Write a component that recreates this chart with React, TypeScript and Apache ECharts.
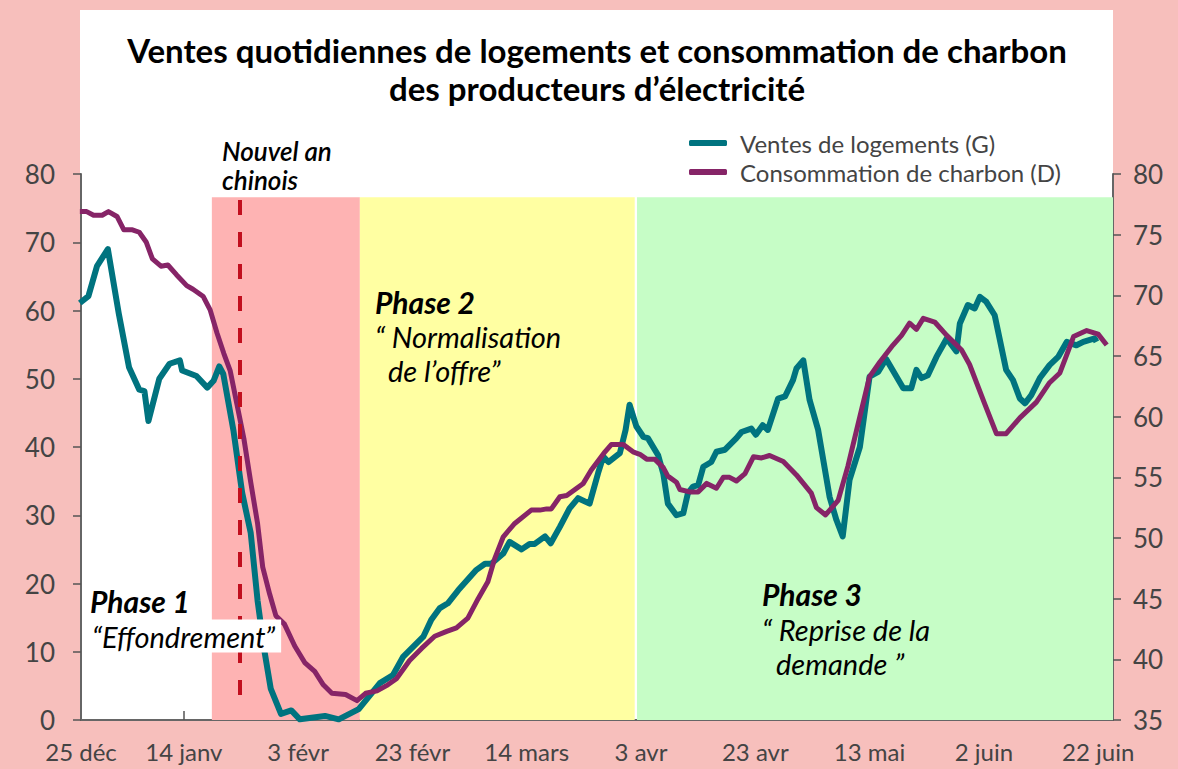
import React, { useEffect, useRef } from "react";
import * as echarts from "echarts";

// Day index counted from 25 Dec 2019 (day 0)
const tickDays = [0, 20, 40, 60, 80, 100, 120, 140, 160, 180];
const tickLabels = ["25 déc", "14 janv", "3 févr", "23 févr", "14 mars", "3 avr", "23 avr", "13 mai", "2 juin", "22 juin"];

const housingDays = [1.8, 3.3, 4.8, 6.7, 8.6, 10.4, 12.2, 13.1, 13.8, 15.7, 17.5, 19.3, 19.7, 22.2, 24.1, 25.2, 26.2, 26.9, 28.7, 30.2, 31.7, 32.9, 34.1, 35.2, 37.0, 38.8, 40.3, 44.7, 47.1, 50.6, 54.3, 56.6, 58.4, 61.9, 63.3, 64.8, 66.2, 68.0, 71.2, 72.7, 73.8, 75.9, 77.0, 79.1, 80.5, 81.4, 83.2, 84.2, 85.8, 87.5, 89.0, 91.0, 92.5, 93.4, 94.3, 96.3, 97.3, 98.0, 99.2, 100.4, 101.2, 103.0, 103.9, 104.7, 106.2, 107.4, 108.2, 109.1, 110.0, 110.9, 112.3, 113.2, 114.7, 116.7, 117.6, 119.3, 120.1, 121.3, 122.2, 124.0, 125.2, 126.6, 127.2, 128.4, 129.5, 131.0, 133.0, 134.2, 135.3, 136.5, 138.3, 140.0, 141.5, 142.9, 145.9, 147.3, 148.2, 149.1, 150.2, 151.7, 153.5, 155.2, 155.8, 157.2, 158.4, 159.3, 160.4, 161.9, 162.8, 163.9, 165.1, 166.3, 167.2, 168.3, 169.8, 171.5, 173.0, 174.5, 176.2, 177.4, 179.4, 179.7];
const housingValues = [61.1, 62.1, 66.5, 69.0, 59.6, 51.7, 48.4, 48.2, 43.8, 50.0, 52.2, 52.7, 51.2, 50.4, 48.7, 49.7, 51.8, 50.7, 42.3, 33.3, 27.4, 17.5, 10.1, 4.6, 0.9, 1.4, 0.1, 0.6, 0.1, 1.6, 5.4, 6.6, 9.3, 12.2, 14.7, 16.4, 17.1, 19.0, 22.0, 22.9, 22.9, 24.4, 26.1, 25.0, 25.8, 25.8, 26.9, 25.9, 28.3, 31.0, 32.5, 31.7, 36.2, 38.6, 37.8, 39.1, 42.5, 46.2, 43.0, 41.5, 41.3, 38.8, 36.1, 31.7, 30.0, 30.3, 33.2, 34.2, 34.4, 37.1, 37.8, 39.3, 39.6, 41.3, 42.2, 42.7, 41.8, 43.2, 42.5, 47.1, 47.4, 49.8, 51.5, 52.7, 46.9, 42.5, 32.7, 29.3, 26.9, 35.2, 40.0, 50.3, 51.0, 52.9, 48.6, 48.6, 51.3, 50.1, 50.5, 53.2, 55.9, 54.0, 58.1, 60.8, 60.3, 62.0, 61.3, 59.3, 55.7, 51.3, 49.8, 47.1, 46.4, 47.6, 50.1, 52.0, 53.2, 55.4, 54.9, 55.4, 55.9, 55.4];

const coalDays = [1.8, 3.0, 4.2, 5.7, 6.8, 8.3, 9.5, 11.0, 12.2, 13.4, 14.5, 16.0, 17.2, 18.7, 20.5, 21.6, 23.4, 24.6, 25.8, 27.0, 28.1, 29.3, 30.5, 31.7, 32.9, 33.8, 35.0, 36.1, 37.6, 39.4, 41.2, 42.9, 44.4, 45.9, 48.3, 50.3, 51.8, 53.8, 55.7, 57.2, 59.5, 61.6, 63.9, 66.0, 67.7, 69.7, 71.5, 73.2, 74.4, 75.9, 77.9, 80.8, 82.3, 83.5, 84.3, 85.8, 87.0, 89.9, 91.3, 93.7, 94.8, 96.9, 98.6, 99.8, 101.0, 102.4, 103.9, 104.7, 106.2, 106.8, 108.5, 110.0, 111.5, 113.2, 114.4, 115.5, 116.7, 118.2, 119.7, 121.1, 122.5, 124.9, 127.2, 129.8, 130.7, 132.3, 134.5, 136.2, 138.3, 140.0, 141.8, 144.1, 145.6, 147.0, 148.2, 149.4, 151.4, 153.5, 156.1, 157.5, 160.2, 162.2, 163.9, 166.3, 169.2, 171.5, 173.3, 174.5, 175.7, 178.0, 180.0, 181.5];
const coalValues = [76.9, 76.9, 76.6, 76.6, 76.9, 76.5, 75.4, 75.4, 75.2, 74.4, 73.0, 72.4, 72.5, 71.7, 70.8, 70.5, 69.9, 68.8, 66.9, 65.2, 63.8, 61.0, 58.2, 54.6, 51.2, 47.6, 45.4, 43.6, 42.9, 41.1, 39.7, 39.0, 37.9, 37.2, 37.1, 36.6, 37.2, 37.4, 37.9, 38.4, 39.9, 40.9, 41.9, 42.3, 42.6, 43.4, 45.0, 46.4, 48.3, 50.1, 51.2, 52.3, 52.3, 52.4, 52.4, 53.4, 53.5, 54.5, 55.6, 57.1, 57.7, 57.7, 57.1, 56.9, 56.5, 56.5, 55.8, 55.1, 54.6, 54.0, 53.8, 53.8, 54.5, 54.1, 55.0, 55.0, 54.7, 55.3, 56.7, 56.6, 56.8, 56.3, 55.2, 53.7, 52.5, 51.9, 53.1, 55.9, 60.0, 63.3, 64.5, 65.9, 66.7, 67.7, 67.2, 68.1, 67.8, 66.7, 65.5, 64.3, 61.0, 58.6, 58.6, 59.9, 61.2, 62.8, 63.6, 65.1, 66.6, 67.1, 66.8, 65.9];

// Phase bands (day index) and Chinese New Year marker
const phaseStarts = [24.9, 50.8, 99.3];
const phaseEnds = [50.8, 98.9, 182.6];
const phaseColors = ["#feb3b3", "#ffffa2", "#c6fdc6"];
const newYearDay = 29.7;

const X_MIN = 2;
const X_MAX = 182.6;
const BAND_TOP = 76.6;

const FONT = "Lato, 'Noto Sans', sans-serif";

export default function App() {
  const ref = useRef<HTMLDivElement>(null);
  useEffect(() => {
    if (!ref.current) return;
    const chart = echarts.init(ref.current, null, { renderer: "svg" });
    const labelValues = tickDays.map((d) => Math.max(d, X_MIN));
    const bands = phaseStarts.map((s, i) => [
      { xAxis: s, yAxis: BAND_TOP, itemStyle: { color: phaseColors[i] } },
      { xAxis: phaseEnds[i], yAxis: 0 },
    ]);
    const txt = (text: string, x: number, y: number, font: string, extra: any = {}) => ({
      type: "text",
      x,
      y,
      z: 50,
      style: { text, font, fill: "#000", align: "left", verticalAlign: "middle", ...extra },
    });
    chart.setOption({
      animation: false,
      backgroundColor: "#f7bfbc",
      grid: { left: 81, right: 65, top: 174, bottom: 49, containLabel: false },
      xAxis: {
        type: "value",
        min: X_MIN,
        max: X_MAX,
        splitLine: { show: false },
        axisLine: { lineStyle: { color: "#666", width: 2 } },
        axisTick: { inside: true, length: 9, customValues: tickDays.slice(1), lineStyle: { color: "#555", width: 1.5 } },
        axisLabel: {
          customValues: labelValues,
          margin: 19,
          color: "#444",
          fontSize: 24,
          fontFamily: FONT,
          formatter: (v: number) => {
            const i = labelValues.findIndex((d) => Math.abs(d - v) < 0.01);
            return i >= 0 ? tickLabels[i] : "";
          },
        },
      },
      yAxis: [
        {
          type: "value",
          min: 0,
          max: 80,
          interval: 10,
          splitLine: { show: false },
          axisLine: { show: true, lineStyle: { color: "#666", width: 2 } },
          axisTick: { show: true, length: 8, lineStyle: { color: "#555", width: 1.5 } },
          axisLabel: { margin: 26, color: "#444", fontSize: 26, fontFamily: FONT },
        },
        {
          type: "value",
          min: 35,
          max: 80,
          interval: 5,
          position: "right",
          splitLine: { show: false },
          axisLine: { show: true, lineStyle: { color: "#666", width: 2 } },
          axisTick: { show: true, length: 8, lineStyle: { color: "#555", width: 1.5 } },
          axisLabel: { margin: 20, color: "#444", fontSize: 26, fontFamily: FONT },
        },
      ],
      legend: {
        orient: "vertical",
        left: 684,
        top: 126,
        itemWidth: 38,
        itemHeight: 6,
        itemGap: 5,
        icon: "roundRect",
        textStyle: { fontSize: 24, color: "#444", fontFamily: FONT, padding: [0, 0, 0, 8] },
        data: ["Ventes de logements (G)", "Consommation de charbon (D)"],
      },
      graphic: [
        { type: "rect", z: -100, shape: { x: 80, y: 10, width: 1033, height: 710 }, style: { fill: "#ffffff" } },
        txt("Ventes quotidiennes de logements et consommation de charbon", 597, 50, `bold 33px ${FONT}`, { align: "center" }),
        txt("des producteurs d’électricité", 597, 88, `bold 33px ${FONT}`, { align: "center" }),
        txt("Nouvel an", 222, 151, `italic 600 26px ${FONT}`),
        txt("chinois", 222, 180, `italic 600 26px ${FONT}`),
        txt("Phase 1", 90, 601, `italic bold 30px ${FONT}`),
        txt("“Effondrement”", 90, 636, `italic 29px ${FONT}`, { backgroundColor: "#fff", padding: [2, 6, 2, 2] }),
        txt("Phase 2", 375, 302, `italic bold 30px ${FONT}`),
        txt("“ Normalisation", 375, 336, `italic 29px ${FONT}`),
        txt("de l’offre”", 388, 370, `italic 29px ${FONT}`),
        txt("Phase 3", 762, 594, `italic bold 30px ${FONT}`),
        txt("“ Reprise de la", 762, 629, `italic 29px ${FONT}`),
        txt("demande ”", 776, 663, `italic 29px ${FONT}`),
      ],
      series: [
        {
          name: "Ventes de logements (G)",
          type: "line",
          yAxisIndex: 0,
          symbol: "none",
          showSymbol: false,
          color: "#00737f",
          lineStyle: { width: 6, color: "#00737f", join: "round" },
          data: housingDays.map((d, i) => [d, housingValues[i]]),
          markArea: { silent: true, data: bands },
          markLine: {
            silent: true,
            symbol: "none",
            label: { show: false },
            lineStyle: { color: "#c10f1e", width: 4, type: [15, 17] },
            data: [[{ coord: [newYearDay, 76.2] }, { coord: [newYearDay, 1.9] }]],
          },
        },
        {
          name: "Consommation de charbon (D)",
          type: "line",
          yAxisIndex: 1,
          symbol: "none",
          showSymbol: false,
          color: "#862467",
          lineStyle: { width: 5, color: "#862467", join: "round" },
          data: coalDays.map((d, i) => [d, coalValues[i]]),
        },
      ],
    });
    return () => chart.dispose();
  }, []);
  return <div ref={ref} style={{ position: "absolute", left: 0, top: 0, width: 1178, height: 769 }} />;
}
